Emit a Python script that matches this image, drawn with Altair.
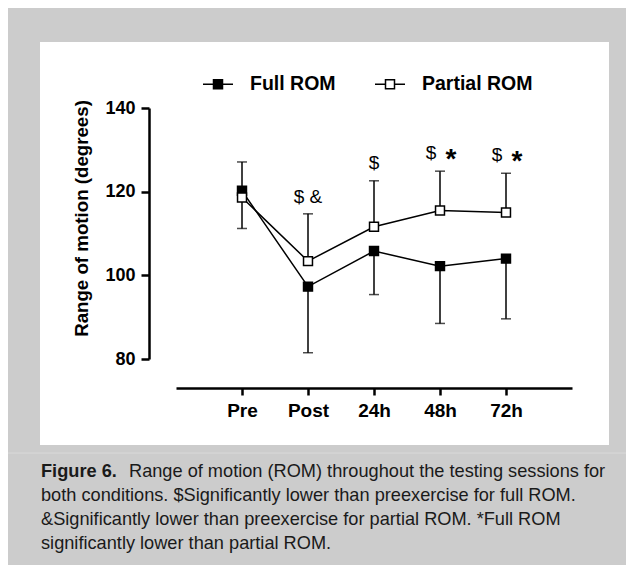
import altair as alt
import pandas as pd

times = ["Pre", "Post", "24h", "48h", "72h"]
series_names = ["Full ROM", "Partial ROM"]
full_mean = [120.2, 97.3, 105.8, 102.2, 104.0]
full_err_end = [111.2, 81.5, 95.4, 88.5, 89.6]
partial_mean = [118.6, 103.4, 111.6, 115.5, 115.0]
partial_err_end = [127.1, 114.7, 122.6, 124.9, 124.4]

ann_center_times = ["Post", "24h"]
ann_center_y = [118.8, 126.9]
ann_center_text = ["$ &", "$"]
ann_pair_times = ["48h", "72h"]
ann_pair_y = [129.3, 128.8]

y_ticks = [80, 100, 120, 140]
y_title = "Range of motion (degrees)"
cap_bold = "Figure 6."
cap_line1 = "Range of motion (ROM) throughout the testing sessions for"
cap_rest = ("both conditions. $Significantly lower than preexercise for full ROM.\n"
            "&Significantly lower than preexercise for partial ROM. *Full ROM\n"
            "significantly lower than partial ROM.")

rows = []
for i, t in enumerate(times):
    rows.append({"series": series_names[0], "time": t, "mean": full_mean[i], "err": full_err_end[i]})
    rows.append({"series": series_names[1], "time": t, "mean": partial_mean[i], "err": partial_err_end[i]})
df = pd.DataFrame(rows)

ann_c = pd.DataFrame({"time": ann_center_times, "y": ann_center_y, "txt": ann_center_text})
ann_p = pd.DataFrame({"time": ann_pair_times, "y": ann_pair_y})
one = pd.DataFrame({"k": [0]})

FONT = "Liberation Sans"

x_enc = alt.X("time:N", sort=times, scale=alt.Scale(type="point", padding=1),
              axis=alt.Axis(title=None, labelAngle=0, offset=29, domainWidth=2.5, tickWidth=2.5,
                            tickSize=7, labelFontSize=19, labelFontWeight="bold", labelPadding=6,
                            domainColor="black", tickColor="black", labelColor="black", labelFont=FONT,
                            grid=False, zindex=1))
y_scale = alt.Scale(domain=[80, 140], nice=False, zero=False)
y_axis = alt.Axis(values=y_ticks, offset=27, domainWidth=2.5, tickWidth=2.5, tickSize=8,
                  labelFontSize=18, labelFontWeight="bold", labelPadding=6, labelFont=FONT,
                  domainColor="black", tickColor="black", labelColor="black", grid=False,
                  title=y_title, titleFontSize=18.7, titleFontWeight="bold", titleFont=FONT,
                  titleColor="black", titlePadding=13, titleY=110, zindex=1)
y_enc = alt.Y("mean:Q", scale=y_scale, axis=y_axis)

panel = alt.Chart(one).mark_rect(color="white").encode(
    x=alt.value(-136), x2=alt.value(433), y=alt.value(-66), y2=alt.value(337))
faint = alt.Chart(one).mark_rule(color="#d9d9d9", strokeWidth=1).encode(
    x=alt.value(-170), x2=alt.value(460), y=alt.value(345))

lines = alt.Chart(df).mark_line(color="black", strokeWidth=1.5).encode(
    x=x_enc, y=y_enc, detail="series:N")
bars = alt.Chart(df).mark_rule(color="black", strokeWidth=1.5).encode(
    x=x_enc, y=y_enc, y2="err:Q")
caps = alt.Chart(df).mark_tick(color="black", orient="horizontal", size=10, thickness=1.5).encode(
    x=x_enc, y=alt.Y("err:Q", scale=y_scale, axis=y_axis))
points = alt.Chart(df).mark_point(shape="square", filled=True, size=80, stroke="black",
                                  strokeWidth=1.5, opacity=1).encode(
    x=x_enc, y=y_enc,
    fill=alt.Fill("series:N", scale=alt.Scale(domain=series_names, range=["black", "white"]),
                  legend=alt.Legend(orient="none", legendX=26, legendY=-40, direction="horizontal",
                                    title=None,
                                    symbolType="M-1,0H-0.3M0.3,0H1M-0.3,-0.3H0.3V0.3H-0.3Z",
                                    symbolSize=900, symbolStrokeColor="black", symbolStrokeWidth=1.5,
                                    labelFont=FONT, labelFontWeight="bold", labelFontSize=19.5,
                                    labelColor="black", labelOffset=16, columnPadding=36)))

ann1 = alt.Chart(ann_c).mark_text(font=FONT, fontSize=19, color="black", baseline="middle").encode(
    x=x_enc, y=alt.Y("y:Q", scale=y_scale, axis=y_axis), text="txt:N")
ann2 = alt.Chart(ann_p).mark_text(font=FONT, fontSize=19, color="black", baseline="middle", dx=-9).encode(
    x=x_enc, y=alt.Y("y:Q", scale=y_scale, axis=y_axis), text=alt.value("$"))
ann3 = alt.Chart(ann_p).mark_text(font=FONT, fontSize=28, fontWeight="bold", color="black",
                                  baseline="middle", dx=11, dy=7).encode(
    x=x_enc, y=alt.Y("y:Q", scale=y_scale, axis=y_axis), text=alt.value("*"))

capA = alt.Chart(one).mark_text(font=FONT, fontSize=18.2, fontWeight="bold", color="#1a1a1a",
                                align="left", baseline="alphabetic").encode(
    x=alt.value(-135), y=alt.value(369), text=alt.value(cap_bold))
capB = alt.Chart(one).mark_text(font=FONT, fontSize=18.2, color="#1a1a1a",
                                align="left", baseline="alphabetic").encode(
    x=alt.value(-47), y=alt.value(369), text=alt.value(cap_line1))
capC = alt.Chart(one).mark_text(font=FONT, fontSize=18.2, color="#1a1a1a", align="left",
                                baseline="alphabetic", lineBreak="\n", lineHeight=24).encode(
    x=alt.value(-135), y=alt.value(393), text=alt.value(cap_rest))

chart = alt.layer(panel, faint, lines, bars, caps, points, ann1, ann2, ann3, capA, capB, capC).properties(
    width=396, height=251,
    autosize=alt.AutoSizeParams(type="none"),
    padding={"left": 168, "top": 100, "right": 54, "bottom": 206},
).configure(background="#cccccc", font=FONT).configure_view(stroke=None)

chart.save("out.html", embed_options={"renderer": "svg", "actions": False})
